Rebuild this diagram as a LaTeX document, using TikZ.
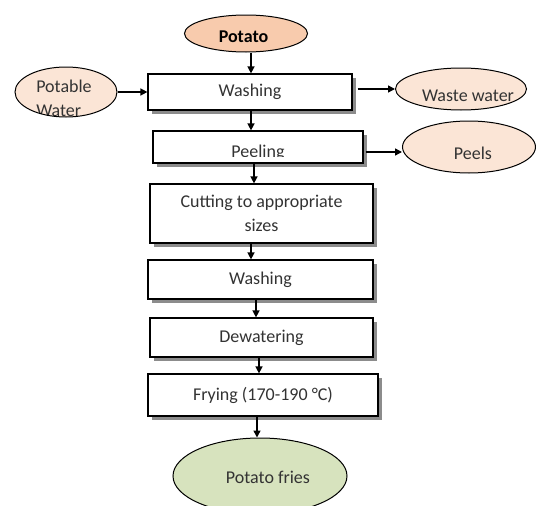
\documentclass[tikz,border=0pt]{standalone}
\usepackage{fontspec}
\setmainfont{Carlito}
\usetikzlibrary{arrows.meta,positioning,shapes.geometric,shadows}
\definecolor{peachdark}{RGB}{248,203,173}
\definecolor{peach}{RGB}{251,229,214}
\definecolor{friesgreen}{RGB}{215,227,190}
\newcommand{\ovaltext}[3]{\makebox[0pt]{\hspace{#1}\raisebox{#2}[0pt][0pt]{#3}}}
\begin{document}
\begin{tikzpicture}[x=1pt,y=-1pt,font=\fontsize{18}{22}\selectfont,
box/.style={draw,line width=1.2pt,fill=white,text=black!80,align=center,drop shadow={shadow xshift=3.5pt,shadow yshift=-3.5pt,fill=black!45,opacity=1}},
oval/.style={draw,ellipse,line width=1pt,fill=peach,text=black!80,inner sep=0pt},
arr/.style={line width=1.4pt,-{Triangle[length=7pt,width=7pt]}}]
\useasboundingbox (0,0) rectangle (536,506);
\node[oval,fill=peachdark,text=black,font=\fontsize{18}{22}\selectfont\bfseries,minimum width=123pt,minimum height=37pt] (potato) at (246,33.5) {\ovaltext{-5pt}{-9pt}{Potato}};
\node[box,minimum width=204pt,minimum height=36pt] (wash1) at (250,92) {Washing};
\node[oval,minimum width=102pt,minimum height=50pt,path picture={\node[align=left,text=black!80,inner sep=0pt,font=\fontsize{18}{24}\selectfont] at ([xshift=-2pt,yshift=-6.5pt]path picture bounding box.center) {Potable\\Water};}] (water) at (66,92) {};
\node[oval,minimum width=131pt,minimum height=42pt] (waste) at (461,89) {\ovaltext{14pt}{-12pt}{Waste water}};
\node[box,minimum width=210pt,minimum height=32pt,path picture={\clip ([yshift=7pt]path picture bounding box.south west) rectangle (path picture bounding box.north east);
  \node[text=black!80,inner sep=0pt] at ([yshift=-6pt]path picture bounding box.center) {Peeling};}] (peel) at (258,147) {};
\node[oval,minimum width=133pt,minimum height=52pt] (peels) at (469,147) {\ovaltext{8pt}{-12pt}{Peels}};
\node[box,minimum width=223pt,minimum height=59pt] (cut) at (261.5,213.5) {Cutting to appropriate\\[2pt]sizes};
\node[box,minimum width=225pt,minimum height=39pt] (wash2) at (260.5,279.5) {Washing};
\node[box,minimum width=223pt,minimum height=39pt] (dewater) at (261.5,337.5) {Dewatering};
\node[box,minimum width=230pt,minimum height=42pt] (fry) at (263,395) {Frying (170-190 °C)};
\node[oval,fill=friesgreen,minimum width=174pt,minimum height=76pt] (fries) at (260,476) {\ovaltext{16pt}{-7pt}{Potato fries}};
% flow
\draw[arr]([xshift=5pt]potato.south)--([xshift=5pt]potato.south|-wash1.north);
\draw[arr](water.east)--(water.east-|wash1.west);
\draw[arr,shorten <=5pt](wash1.east|-waste.west)--(waste.west);
\draw[arr]([xshift=1pt]wash1.south)--([xshift=1pt]wash1.south|-peel.north);
\draw[arr,shorten <=2pt]([yshift=-5pt]peel.east)--([yshift=-5pt]peel.east-|peels.west);
\draw[arr]([xshift=-4pt]peel.south)--([xshift=-4pt]peel.south|-cut.north);
\draw[arr]([xshift=-10.5pt]cut.south)--([xshift=-10.5pt]cut.south|-wash2.north);
\draw[arr]([xshift=-4.5pt]wash2.south)--([xshift=-4.5pt]wash2.south|-dewater.north);
\draw[arr]([xshift=-2.5pt]dewater.south)--([xshift=-2.5pt]dewater.south|-fry.north);
\draw[arr]([xshift=-6pt]fry.south)--([xshift=-6pt]fry.south|-fries.north);
\end{tikzpicture}
\end{document}
